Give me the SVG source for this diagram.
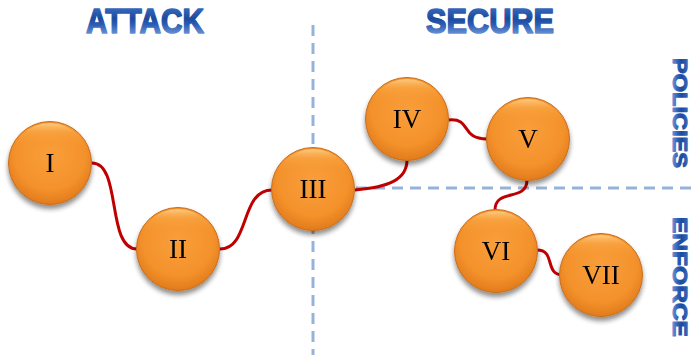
<svg xmlns="http://www.w3.org/2000/svg" width="698" height="355" viewBox="0 0 698 355">
  <defs>
    <radialGradient id="orb" cx="50%" cy="40%" r="60%">
      <stop offset="0%" stop-color="#f99e3a"/>
      <stop offset="70%" stop-color="#f4922c"/>
      <stop offset="100%" stop-color="#e17b1c"/>
    </radialGradient>
    <linearGradient id="gloss" x1="0" y1="0" x2="0" y2="1">
      <stop offset="0%" stop-color="#ffd08a" stop-opacity="0.9"/>
      <stop offset="12%" stop-color="#fbb050" stop-opacity="0.4"/>
      <stop offset="30%" stop-color="#f7982f" stop-opacity="0"/>
      <stop offset="100%" stop-color="#f7982f" stop-opacity="0"/>
    </linearGradient>
    <linearGradient id="title" x1="0" y1="0" x2="0" y2="1">
      <stop offset="0%" stop-color="#4a7cd0"/>
      <stop offset="45%" stop-color="#1b4a9e"/>
      <stop offset="60%" stop-color="#2b5cb3"/>
      <stop offset="100%" stop-color="#8fb3ea"/>
    </linearGradient>
    <filter id="shadow" x="-30%" y="-30%" width="160%" height="170%">
      <feGaussianBlur in="SourceAlpha" stdDeviation="2.5"/>
      <feOffset dx="0" dy="4" result="b"/>
      <feComponentTransfer><feFuncA type="linear" slope="0.45"/></feComponentTransfer>
      <feMerge><feMergeNode/><feMergeNode in="SourceGraphic"/></feMerge>
    </filter>
  </defs>
  <style>
    .orb { fill: url(#orb); stroke: #c96d1a; stroke-width: 1; }
    .gl { fill: url(#gloss); }
    .lbl { font-family: "Liberation Serif", "Times New Roman", serif; font-size: 27px; fill: #000; text-anchor: middle; }
    .ttl { font-family: "Liberation Sans", Arial, sans-serif; font-weight: bold; font-size: 35px; fill: url(#title); stroke: url(#title); stroke-width: 1.6; stroke-linejoin: round; text-anchor: middle; }
    .vt { font-family: "Liberation Sans", Arial, sans-serif; font-weight: bold; font-size: 21px; fill: url(#title); stroke: url(#title); stroke-width: 1.2; stroke-linejoin: round; }
    .dash { stroke: #95b3d7; stroke-width: 3; stroke-dasharray: 11 7; fill: none; }
    .link { stroke: #c00000; stroke-width: 3; fill: none; }
  </style>

  <g id="guides">
    <line class="dash" x1="313" y1="25" x2="313" y2="355"/>
    <line class="dash" x1="356" y1="188" x2="698" y2="188"/>
  </g>

  <g id="titles">
    <text class="ttl" x="145" y="33" textLength="118" lengthAdjust="spacingAndGlyphs">ATTACK</text>
    <text class="ttl" x="490" y="33" textLength="128" lengthAdjust="spacingAndGlyphs">SECURE</text>
    <text class="vt" transform="translate(673,58) rotate(90)" textLength="110" lengthAdjust="spacingAndGlyphs">POLICIES</text>
    <text class="vt" transform="translate(673,217) rotate(90)" textLength="120" lengthAdjust="spacingAndGlyphs">ENFORCE</text>
  </g>

  <g id="connectors">
    <path class="link" d="M92,163 C122,163 106,249 137,249"/>
    <path class="link" d="M220,249 C250,249 240,190 272,190"/>
    <path class="link" d="M355,190 C388,187 407,180 407,160"/>
    <path class="link" d="M449,120 C472,118 460,139 487,139"/>
    <path class="link" d="M527,180 C527,202 495,188 495,210"/>
    <path class="link" d="M537,250 C556,250 544,275 563,275"/>
  </g>

  <g id="node-I" filter="url(#shadow)">
    <circle class="orb" cx="50" cy="163" r="41.5"/>
    <circle class="gl" cx="50" cy="163" r="40"/>
    <text class="lbl" x="50" y="172">I</text>
  </g>
  <g id="node-II" filter="url(#shadow)">
    <circle class="orb" cx="178" cy="249" r="41.5"/>
    <circle class="gl" cx="178" cy="249" r="40"/>
    <text class="lbl" x="178" y="258">II</text>
  </g>
  <g id="node-III" filter="url(#shadow)">
    <circle class="orb" cx="313" cy="189" r="41.5"/>
    <circle class="gl" cx="313" cy="189" r="40"/>
    <text class="lbl" x="313" y="198">III</text>
  </g>
  <g id="node-IV" filter="url(#shadow)">
    <circle class="orb" cx="407" cy="119" r="41.5"/>
    <circle class="gl" cx="407" cy="119" r="40"/>
    <text class="lbl" x="407" y="128">IV</text>
  </g>
  <g id="node-V" filter="url(#shadow)">
    <circle class="orb" cx="528" cy="139" r="41.5"/>
    <circle class="gl" cx="528" cy="139" r="40"/>
    <text class="lbl" x="528" y="148">V</text>
  </g>
  <g id="node-VI" filter="url(#shadow)">
    <circle class="orb" cx="496" cy="251" r="41.5"/>
    <circle class="gl" cx="496" cy="251" r="40"/>
    <text class="lbl" x="496" y="260">VI</text>
  </g>
  <g id="node-VII" filter="url(#shadow)">
    <circle class="orb" cx="601" cy="275" r="41.5"/>
    <circle class="gl" cx="601" cy="275" r="40"/>
    <text class="lbl" x="601" y="284">VII</text>
  </g>
</svg>
